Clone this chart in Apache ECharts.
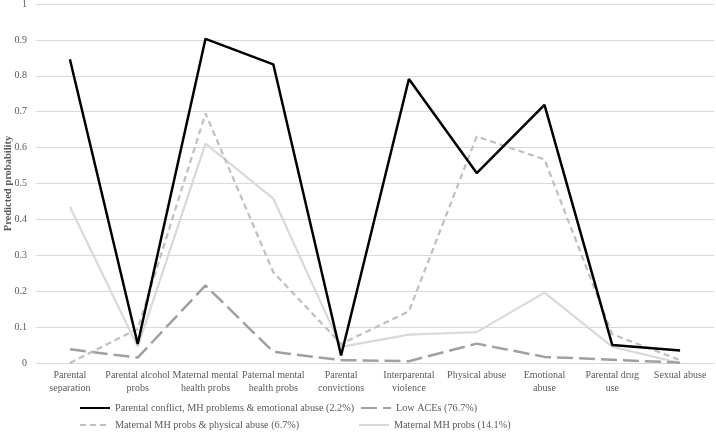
<!DOCTYPE html>
<html><head><meta charset="utf-8">
<script src="https://cdn.jsdelivr.net/npm/echarts@6/dist/echarts.min.js"></script>
<style>html,body{margin:0;padding:0;background:#fff}#c{width:716px;height:433px}</style>
</head><body><div id="c"></div>
<script>
const categories = ["Parental\nseparation","Parental alcohol\nprobs","Maternal mental\nhealth probs","Paternal mental\nhealth probs","Parental\nconvictions","Interparental\nviolence","Physical abuse","Emotional\nabuse","Parental drug\nuse","Sexual abuse"];
const conflictMH = [0.846,0.053,0.903,0.832,0.021,0.791,0.529,0.719,0.050,0.035];
const lowACEs = [0.038,0.015,0.216,0.031,0.008,0.005,0.054,0.017,0.009,0.001];
const maternalPhys = [0.0,0.095,0.695,0.253,0.053,0.144,0.631,0.567,0.080,0.008];
const maternalMH = [0.435,0.045,0.611,0.458,0.045,0.079,0.086,0.196,0.045,0.0];
const seriesNames = ["Parental conflict, MH problems & emotional abuse (2.2%)","Low ACEs (76.7%)","Maternal MH probs & physical abuse (6.7%)","Maternal MH probs (14.1%)"];

const font = "'Liberation Serif', 'Times New Roman', serif";
const chart = echarts.init(document.getElementById('c'));
const legendBase = {itemWidth:30,itemHeight:10,textStyle:{fontFamily:font,fontSize:10.2,color:'#595959'},itemGap:0,padding:0,itemStyle:{opacity:0}};
chart.setOption({
  animation:false,
  grid:{left:36,right:2,top:4,bottom:70,containLabel:false,outerBoundsMode:'none'},
  xAxis:{type:'category',data:categories,boundaryGap:true,
    axisLine:{lineStyle:{color:'#d9d9d9',width:1}},axisTick:{show:false},
    axisLabel:{interval:0,fontFamily:font,fontSize:10,color:'#595959',lineHeight:12.7,margin:6}},
  yAxis:{type:'value',min:0,max:1,interval:0.1,
    name:'Predicted probability',nameLocation:'middle',nameGap:22,nameMoveOverlap:false,
    nameTextStyle:{fontFamily:font,fontSize:10.5,fontWeight:'bold',color:'#595959'},
    axisLine:{show:false},axisTick:{show:false},
    axisLabel:{fontFamily:font,fontSize:10,color:'#595959',margin:9,formatter:v=>String(Math.round(v*10)/10)},
    splitLine:{lineStyle:{color:'#d9d9d9',width:1}}},
  legend:[
    Object.assign({},legendBase,{data:[seriesNames[0]],left:79,top:403}),
    Object.assign({},legendBase,{data:[seriesNames[1]],left:360,top:403}),
    Object.assign({},legendBase,{data:[seriesNames[2]],left:79,top:420}),
    Object.assign({},legendBase,{data:[seriesNames[3]],left:358,top:420})
  ],
  series:[
    {name:seriesNames[0],type:'line',data:conflictMH,symbol:'none',z:5,lineStyle:{color:'#000',width:2.5},itemStyle:{color:'#000'}},
    {name:seriesNames[1],type:'line',data:lowACEs,symbol:'none',z:3,lineStyle:{color:'#a0a0a0',width:2.5,type:[16,6]},itemStyle:{color:'#a0a0a0'}},
    {name:seriesNames[2],type:'line',data:maternalPhys,symbol:'none',z:4,lineStyle:{color:'#bfbfbf',width:2.2,type:[6,4]},itemStyle:{color:'#bfbfbf'}},
    {name:seriesNames[3],type:'line',data:maternalMH,symbol:'none',z:2,lineStyle:{color:'#d9d9d9',width:2.2},itemStyle:{color:'#d9d9d9'}}
  ]
});
</script></body></html>
